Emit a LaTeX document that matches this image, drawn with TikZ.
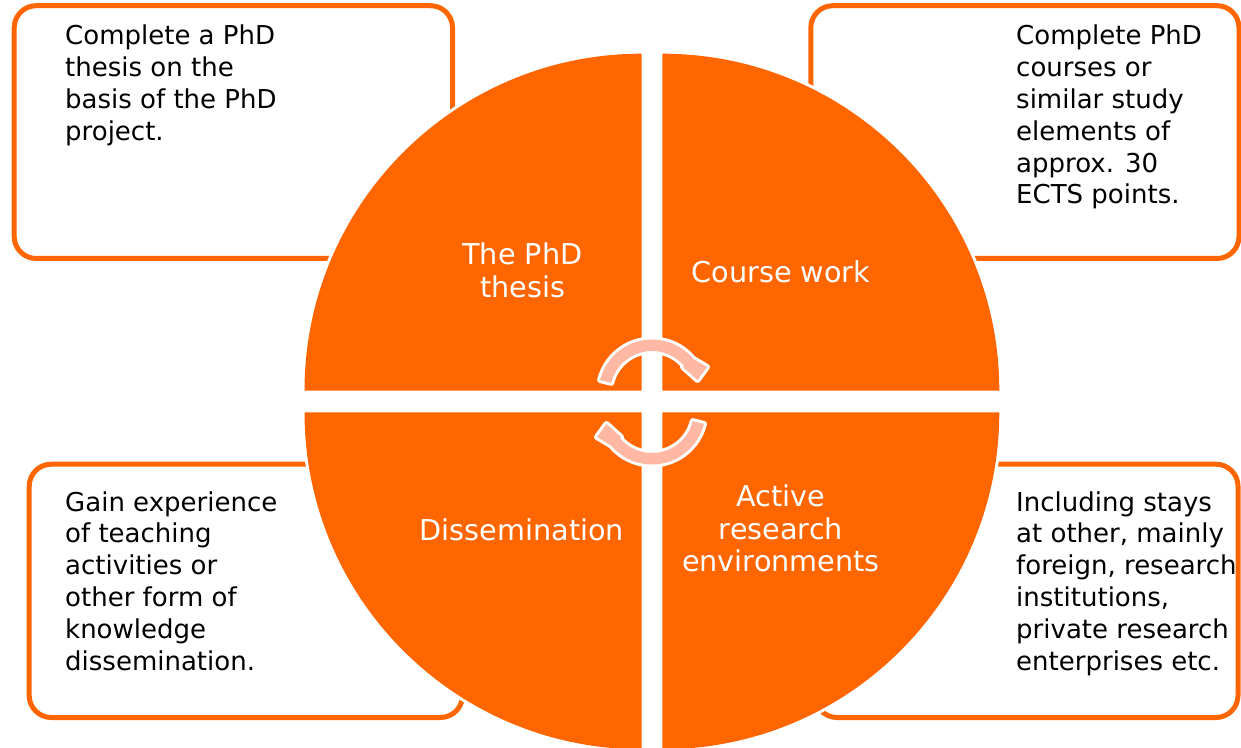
\documentclass[tikz,border=0pt]{standalone}
\usepackage{fontspec}
\setmainfont{DejaVu Sans}
\definecolor{phdorange}{RGB}{255,102,0}
\definecolor{cyclepink}{RGB}{255,184,164}
\begin{document}
\begin{tikzpicture}[x=1pt,y=1pt,
    notebox/.style={draw=phdorange,line width=5pt,rounded corners=22pt},
    quarter/.style={fill=phdorange,preaction={draw=white,line width=6pt}},
    cyclearrow/.style={fill=cyclepink,preaction={draw=white,line width=6pt,line join=round}}]
  \useasboundingbox (0,0) rectangle (1241,747);
  \draw[notebox] (14.2,488.5) rectangle (452.5,741.3);
  \draw[notebox] (810.8,488.5) rectangle (1239,741.3);
  \draw[notebox] (29.2,29.5) rectangle (462.5,282.8);
  \draw[notebox] (815,29.5) rectangle (1238,282.8);
  \path[quarter] (641.5,356.3) -- ++(180:337) arc[start angle=180,end angle=90,radius=337] -- cycle;
  \path[quarter] (662.3,356.3) -- ++(90:337) arc[start angle=90,end angle=0,radius=337] -- cycle;
  \path[quarter] (641.5,334.7) -- ++(270:337) arc[start angle=270,end angle=180,radius=337] -- cycle;
  \path[quarter] (662.3,334.7) -- ++(0:337) arc[start angle=0,end angle=-90,radius=337] -- cycle;
  \foreach \cy/\rot in {354/0,336/180}
    \path[cyclearrow,shift={(652,\cy)},rotate=\rot] (166:53.5) arc[start angle=166,end angle=40,radius=53.5]
      -- (55,26) -- (45.5,13) -- (31,26) -- (40:42) arc[start angle=40,end angle=166,radius=42] -- cycle;
  \begin{scope}[every node/.style={text=white,align=center,inner sep=0pt,anchor=base,font=\fontsize{28.7}{32.5}\selectfont}]
    \node (thesis) at (522.5,449.5) {The PhD\\thesis};
    \node (course) at (781,464.3) {Course work};
    \node (dissem) at (522,207) {Dissemination};
    \node (active) at (781,175.3) {Active\\research\\environments};
  \end{scope}
  \begin{scope}[every node/.style={anchor=base west,align=left,inner sep=0pt,font=\fontsize{26}{31.8}\selectfont}]
    \node (thesisnote) at (65,606.6) {Complete a PhD\\thesis on the\\basis of the PhD\\project.};
    \node (coursenote) at (1016,543) {Complete PhD\\courses or\\similar study\\elements of\\approx. 30\\ECTS points.};
    \node (dissemnote) at (65,77) {Gain experience\\of teaching\\activities or\\other form of\\knowledge\\dissemination.};
    \node (activenote) at (1016,77) {Including stays\\at other, mainly\\foreign, research\\institutions,\\private research\\enterprises etc.};
  \end{scope}
\end{tikzpicture}
\end{document}
